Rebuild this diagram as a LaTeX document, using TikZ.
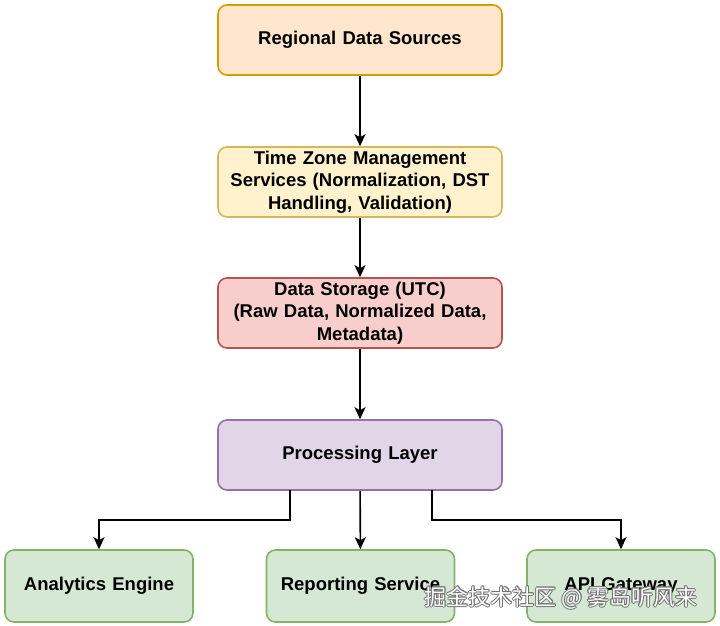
\documentclass[tikz,border=0pt]{standalone}
\usepackage{fontspec}
\setmainfont{Liberation Sans}
\newfontfamily\cjkfont{Noto Sans CJK SC}
\usetikzlibrary{arrows.meta,positioning}
\definecolor{orfill}{HTML}{FFE6CC}\definecolor{ordraw}{HTML}{D79B00}
\definecolor{yefill}{HTML}{FFF2CC}\definecolor{yedraw}{HTML}{D6B656}
\definecolor{refill}{HTML}{F8CECC}\definecolor{redraw}{HTML}{B85450}
\definecolor{pufill}{HTML}{E1D5E7}\definecolor{pudraw}{HTML}{9673A6}
\definecolor{grfill}{HTML}{D5E8D4}\definecolor{grdraw}{HTML}{82B366}
\tikzset{
  box/.style={rectangle, rounded corners=9pt, line width=1.6pt, align=center,
    font=\fontsize{18.5}{22.5}\selectfont\bfseries, inner sep=0pt},
  topbox/.style={box, minimum width=284pt, minimum height=70pt, text width=278pt},
  leafbox/.style={box, minimum width=188pt, minimum height=72pt, text width=184pt},
  conn/.style={line width=1.6pt, -{Stealth[length=12pt,width=11pt,inset=3pt]}},
  wm/.style={font=\cjkfont\fontsize{22}{26}\selectfont, anchor=center},
}
\begin{document}
\begin{tikzpicture}[x=1pt,y=-1pt]
\useasboundingbox (0,0) rectangle (720,625);
\node[topbox, fill=orfill, draw=ordraw] (src) at (360,40) {Regional Data Sources};
\node[topbox, fill=yefill, draw=yedraw] (tz) at (360,182) {Time Zone Management\\Services (Normalization, DST\\Handling, Validation)};
\node[topbox, fill=refill, draw=redraw] (st) at (360,313) {Data Storage (UTC)\\ (Raw Data, Normalized Data,\\Metadata)};
\node[topbox, fill=pufill, draw=pudraw] (pl) at (360,455) {Processing Layer};
\node[leafbox, fill=grfill, draw=grdraw] (ae) at (99,586) {Analytics Engine};
\node[leafbox, fill=grfill, draw=grdraw] (rs) at (360.5,586) {Reporting Service};
\node[leafbox, fill=grfill, draw=grdraw] (ag) at (621,586) {API Gateway};
\draw[conn] (src) -- (tz);
\draw[conn] (tz) -- (st);
\draw[conn] (st) -- (pl);
\coordinate (pl1) at (290,490);
\coordinate (pl3) at (432,490);
\draw[conn] (pl1) -- (290,520) -| (ae.north);
\draw[conn] (pl) -- (rs);
\draw[conn] (pl3) -- (432,520) -| (ag.north);
% watermark
\foreach \dx/\dy in {-0.7/0,0.7/0,0/-0.7,0/0.7,-0.5/-0.5,0.5/0.5,-0.5/0.5,0.5/-0.5}{
  \node[wm, text=black!55] (wm\dx\dy) at (561+\dx,598+\dy) {掘金技术社区 @ 雾岛听风来};
}
\node[wm, text=white] (wmark) at (561,598) {掘金技术社区 @ 雾岛听风来};
\end{tikzpicture}
\end{document}
